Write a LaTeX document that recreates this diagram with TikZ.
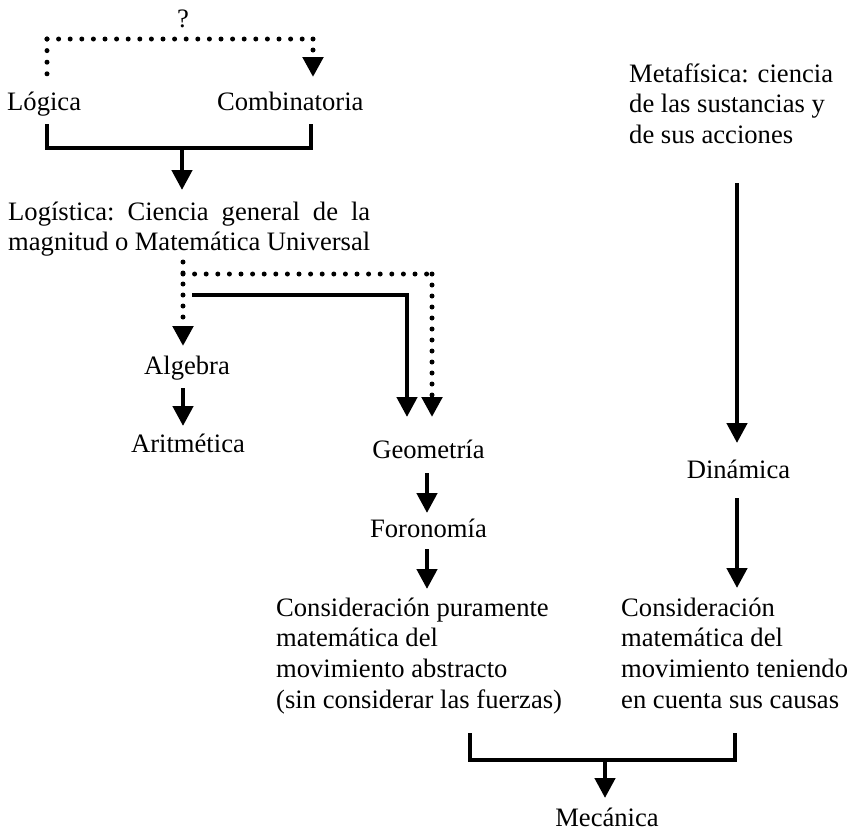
\documentclass[tikz,border=0pt]{standalone}
\usepackage{fontspec}
\setmainfont{Liberation Serif}
\usetikzlibrary{arrows.meta}
\begin{document}
\begin{tikzpicture}[x=1pt,y=-1pt,
  txt/.style={inner sep=0pt, anchor=base, font=\fontsize{26.6}{30.7}\selectfont},
  blk/.style={inner sep=0pt, anchor=base west, font=\fontsize{26.6}{30.7}\selectfont},
  solidline/.style={line width=4.5pt},
  arr/.style={line width=4.5pt, -{Triangle[width=20pt,length=20pt]}},
  dotline/.style={line width=5pt, line cap=round, dash pattern=on 0pt off 11.6pt},
  dotarr/.style={line width=5pt, line cap=round, dash pattern=on 0pt off 11pt, -{Triangle[width=20pt,length=20pt]}},
]
\path[use as bounding box] (0,0) rectangle (859,831);

% texts
\node[txt] (q) at (183,27) {?};
\node[blk] (logica) at (7,110) {Lógica};
\node[blk] (comb) at (217,110) {Combinatoria};
\node[blk] (logistica) at (8,220) {\frenchspacing\parbox[t]{362pt}{\makebox[362pt][s]{Logística: Ciencia general de la}\\\makebox[362pt][s]{magnitud o Matemática Universal}}};
\node[txt] (algebra) at (187,374) {Algebra};
\node[txt] (aritmetica) at (188,452) {Aritmética};
\node[txt] (geometria) at (428.5,458) {Geometría};
\node[txt] (foronomia) at (428.5,537) {Foronomía};
\node[blk] (cons1) at (276,616) {\parbox[t]{300pt}{Consideración puramente\\matemática del\\movimiento abstracto\\(sin considerar las fuerzas)}};
\node[blk] (metaf) at (629,82) {\parbox[t]{228pt}{Metafísica: ciencia\\de las sustancias y\\de sus acciones}};
\node[txt] (dinamica) at (738.5,478) {Dinámica};
\node[blk] (cons2) at (621,616) {\parbox[t]{236pt}{Consideración\\matemática del\\movimiento teniendo\\en cuenta sus causas}};
\node[txt] (mecanica) at (607,826) {Mecánica};

% connector points
\coordinate (lgTop) at (47,83);
\coordinate (c1) at (47,39);
\coordinate (c2) at (313,39);
\coordinate (cbTip) at (313,77);
\coordinate (bL) at (47,124);
\coordinate (bR) at (311,124);
\coordinate (bM) at (182,148);
\coordinate (lsTip) at (182,190);
\coordinate (ls1) at (183,262);
\coordinate (ls2) at (183,274);
\coordinate (alTip) at (183,346);
\coordinate (ls3) at (432,274);
\coordinate (geTip2) at (432,417);
\coordinate (so1) at (192,295);
\coordinate (so2) at (407,295);
\coordinate (geTip1) at (407,417);
\coordinate (mL) at (470,733);
\coordinate (mR) at (735,733);
\coordinate (mM) at (605,760);
\coordinate (meTip) at (605,798);

% top dotted question link
\draw[dotline] (c1) -- (lgTop);
\draw[dotline] (c1) -- (c2);
\draw[dotarr] (c2) -- (cbTip);

% Logica + Combinatoria -> Logistica
\draw[solidline] (bL) |- (bM) -| (bR);
\draw[arr] (bM) -- (lsTip);

% Logistica -> Algebra / Geometria
\draw[dotarr] (ls1) -- (alTip);
\draw[dotline] (ls2) -- (ls3);
\draw[dotarr] (ls3) -- (geTip2);
\draw[arr] (so1) -- (so2) -- (geTip1);

% vertical arrows
\draw[arr] (183,388) -- (183,426);
\draw[arr] (427,473) -- (427,513);
\draw[arr] (427,549) -- (427,589);
\draw[arr] (737,183) -- (737,443);
\draw[arr] (737,498) -- (737,588);

% bottom bracket -> Mecanica
\draw[solidline] (mL) |- (mM) -| (mR);
\draw[arr] (mM) -- (meTip);
\end{tikzpicture}
\end{document}
